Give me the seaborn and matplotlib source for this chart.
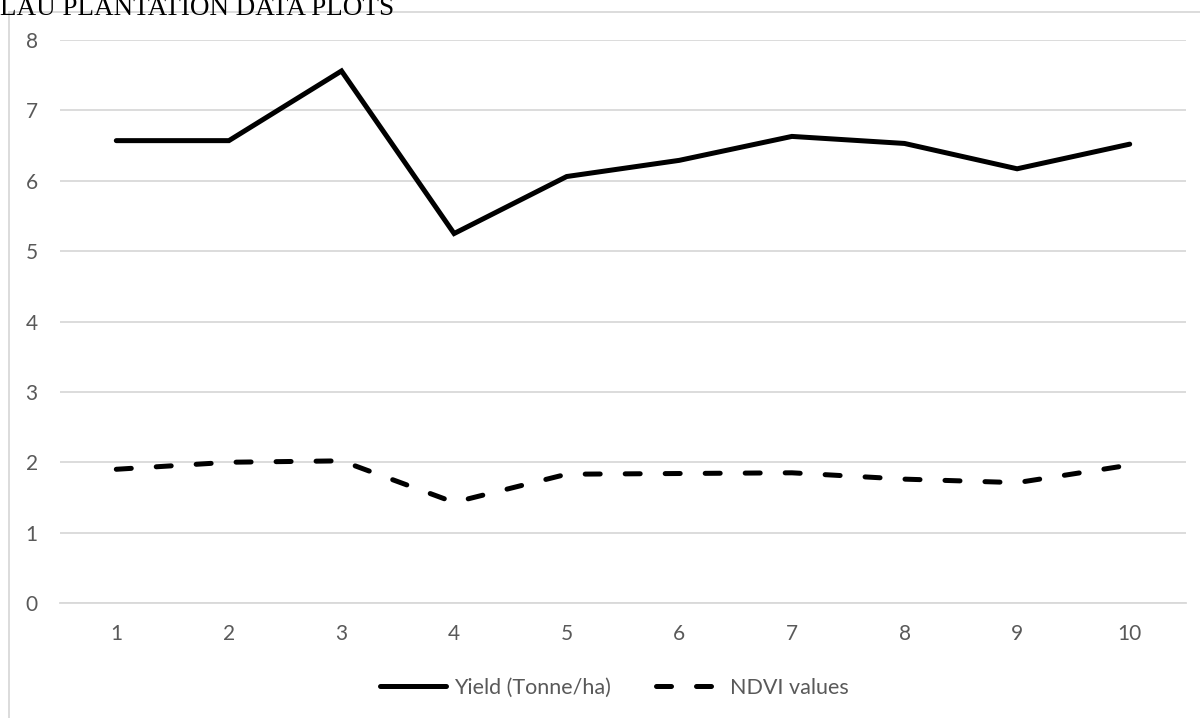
import matplotlib
matplotlib.use("Agg")
import matplotlib.pyplot as plt
import seaborn as sns
import pandas as pd
from matplotlib.patches import Rectangle
from matplotlib.lines import Line2D

plots = [1, 2, 3, 4, 5, 6, 7, 8, 9, 10]
yield_t_ha = [6.57, 6.57, 7.56, 5.25, 6.06, 6.29, 6.63, 6.53, 6.17, 6.52]
ndvi_values = [1.90, 2.00, 2.02, 1.43, 1.83, 1.84, 1.85, 1.76, 1.71, 1.96]
series_names = ["Yield (Tonne/ha)", "NDVI values"]
y_ticks = [0, 1, 2, 3, 4, 5, 6, 7, 8]

sns.set_theme(style="white")
plt.rcParams["font.family"] = ["Lato", "DejaVu Sans"]

grey_text = "#595959"
grid_col = "#d9d9d9"

fig = plt.figure(figsize=(12, 7.18), dpi=100)
ax = fig.add_axes([60 / 1200, 1 - 603 / 718, 1126 / 1200, 563 / 718])

df = pd.DataFrame({"plot": plots, "yield": yield_t_ha, "ndvi": ndvi_values})

lw = 3.6
sns.lineplot(data=df, x="plot", y="yield", ax=ax, color="black", lw=lw,
             solid_capstyle="round", solid_joinstyle="miter")
sns.lineplot(data=df, x="plot", y="ndvi", ax=ax, color="black", lw=lw,
             linestyle=(0, (3, 5)), dash_capstyle="round")

ax.set_xlim(0.5, 10.5)
ax.set_ylim(0, 8)
ax.set_xticks(plots)
ax.set_yticks(y_ticks)
ax.set_xlabel("")
ax.set_ylabel("")
ax.grid(axis="y", color=grid_col, lw=1.3)
ax.set_axisbelow(True)
for side in ["top", "right", "left"]:
    ax.spines[side].set_visible(False)
ax.spines["bottom"].set_color(grid_col)
ax.spines["bottom"].set_linewidth(1.3)
ax.tick_params(axis="both", length=0, labelsize=15, labelcolor=grey_text)
ax.tick_params(axis="y", pad=16)
ax.tick_params(axis="x", pad=15)

# chart area frame
fig.patches.append(Rectangle((9 / 1200, -0.01), 1.0, 1 - 12 / 718 + 0.01,
                             transform=fig.transFigure, fill=False,
                             edgecolor=grid_col, lw=1.3, zorder=0))

fig.text(0.0, 1 - 15 / 718, "LAU PLANTATION DATA PLOTS", family="Liberation Serif",
         fontsize=19.5, color="black", ha="left", va="baseline")

handles = [
    Line2D([0], [0], color="black", lw=lw, solid_capstyle="round"),
    Line2D([0], [0], color="black", lw=lw, linestyle=(0, (3, 5)), dash_capstyle="round"),
]
fig.legend(handles, series_names, loc="center", bbox_to_anchor=(0.512, 1 - 688 / 718),
           ncol=2, frameon=False, fontsize=15.5, labelcolor=grey_text,
           handlelength=3.1, handletextpad=0.35, columnspacing=2.1)

fig.savefig("out.png", dpi=100)
